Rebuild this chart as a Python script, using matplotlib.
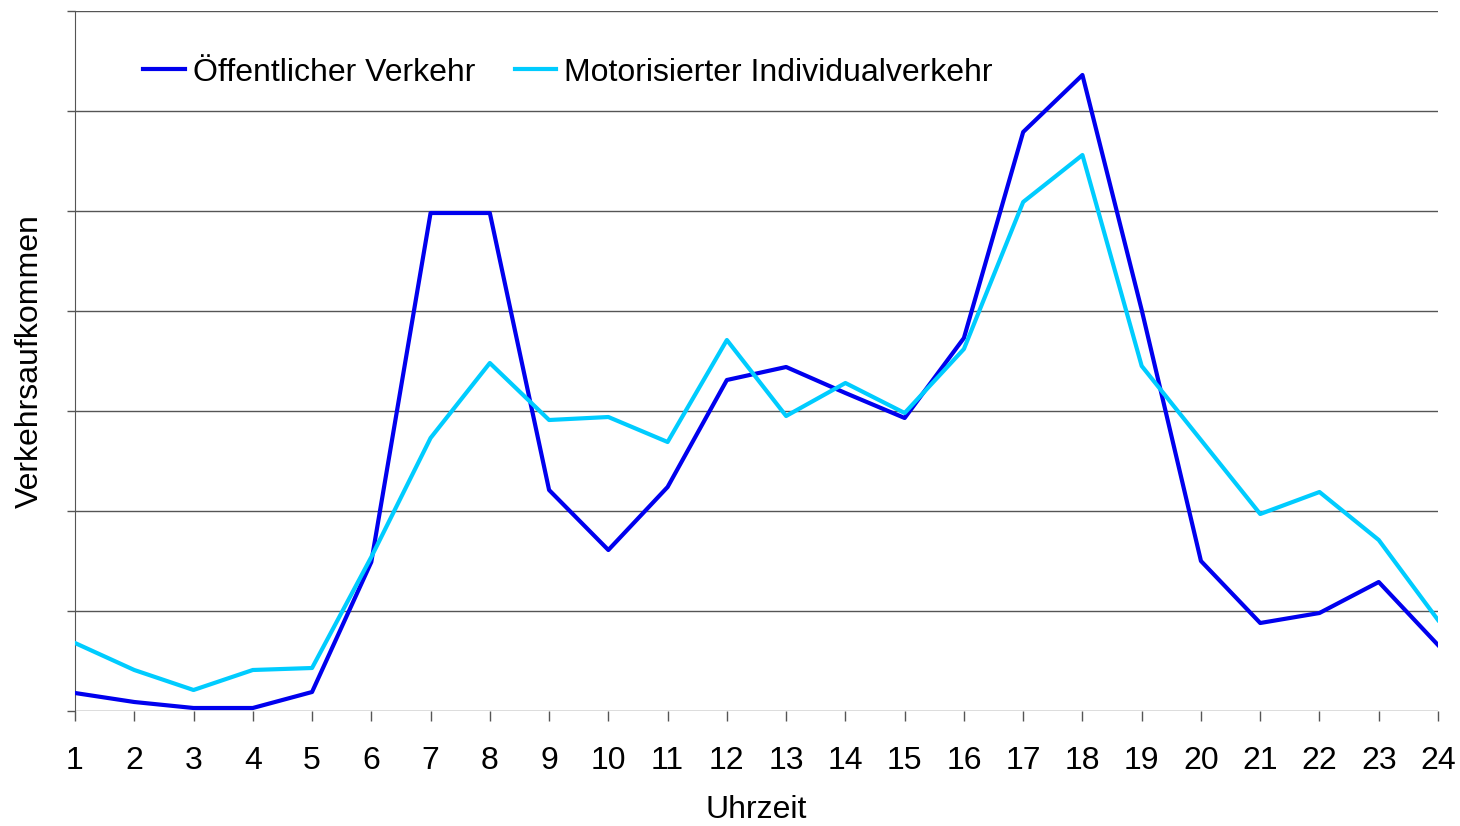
import matplotlib
matplotlib.use("Agg")
import matplotlib.pyplot as plt

hours = list(range(1, 25))
oev = [0.18, 0.09, 0.03, 0.03, 0.19, 1.49, 4.98, 4.98, 2.21, 1.61, 2.24, 3.31,
       3.44, 3.18, 2.93, 3.73, 5.79, 6.36, 4.01, 1.50, 0.88, 0.98, 1.29, 0.66]
miv = [0.68, 0.41, 0.21, 0.41, 0.43, 1.54, 2.73, 3.48, 2.91, 2.94, 2.69, 3.71,
       2.95, 3.28, 2.98, 3.62, 5.09, 5.56, 3.45, 2.71, 1.97, 2.19, 1.71, 0.91]
labels = ["Öffentlicher Verkehr", "Motorisierter Individualverkehr"]

plt.rcParams['font.family'] = ['Liberation Sans', 'DejaVu Sans']

fig = plt.figure(figsize=(14.6, 8.26), dpi=100)
ax = fig.add_axes([75/1460, 1 - 711/826, (1438-75)/1460, 700/826])

ax.plot(hours, oev, color='#0000EE', lw=3.0, label=labels[0], zorder=3)
ax.plot(hours, miv, color='#00CCFF', lw=3.0, label=labels[1], zorder=3)

fs = 23
ax.set_xlim(1, 24)
ax.set_ylim(0, 7)
ax.set_xticks(hours)
ax.set_xticklabels([str(h) for h in hours], fontsize=fs)
ax.set_yticks(range(0, 8))
ax.set_yticklabels([])
ax.yaxis.grid(True, color='#555555', lw=1.0)
ax.set_axisbelow(True)
for s in ['top', 'right', 'bottom']:
    ax.spines[s].set_visible(False)
ax.spines['left'].set_color('#555555')
ax.tick_params(axis='x', length=7, width=1.0, color='#555555', pad=18)
ax.tick_params(axis='y', length=6, width=1.0, color='#555555')
ax.set_xlabel("Uhrzeit", fontsize=fs, labelpad=14)
ax.set_ylabel("Verkehrsaufkommen", fontsize=fs, labelpad=12)

leg = ax.legend(loc='center left', bbox_to_anchor=(0.05, 0.912), ncol=2, frameon=False,
                fontsize=fs, handlelength=1.3, handletextpad=0.25, columnspacing=1.25,
                borderpad=0, borderaxespad=0)

fig.savefig("out.png", dpi=100)
